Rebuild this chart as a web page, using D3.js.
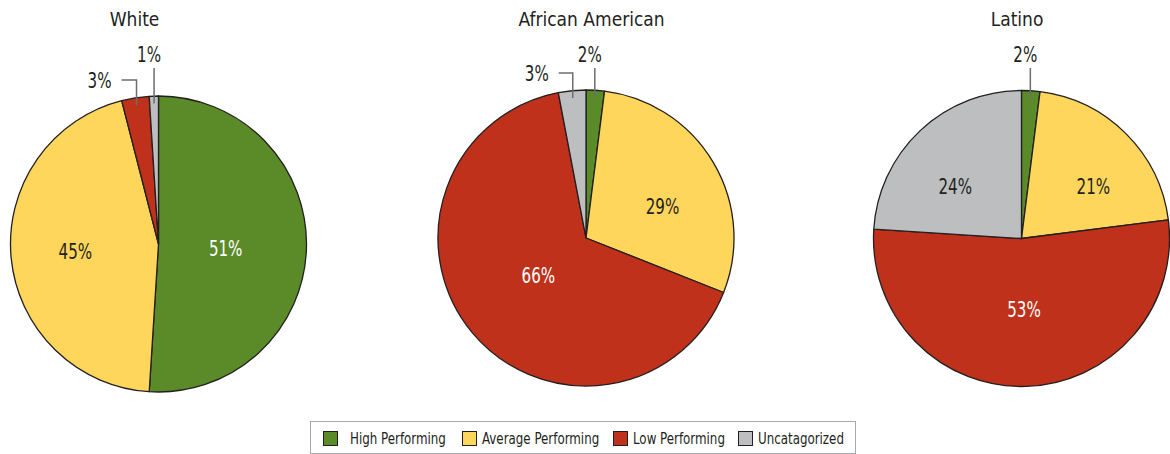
<!DOCTYPE html>
<html>
<head>
<meta charset="utf-8">
<script src="https://cdn.jsdelivr.net/npm/d3@7"></script>
<style>
  html, body { margin: 0; padding: 0; background: #fff; }
  svg { display: block; }
  text { font-family: "DejaVu Sans Condensed", "Liberation Sans Narrow", "Arial Narrow", sans-serif; font-stretch: condensed; }
</style>
</head>
<body>
<svg id="chart" width="1170" height="454"></svg>
<script>
// ---- data ----
const categories = ["High Performing", "Average Performing", "Low Performing", "Uncatagorized"];
const groups = ["White", "African American", "Latino"];
const whiteValues = [51, 45, 3, 1];
const africanAmericanValues = [2, 29, 66, 3];
const latinoValues = [2, 21, 53, 24];
const seriesValues = [whiteValues, africanAmericanValues, latinoValues];

// ---- styles / layout ----
const colors = ["#5b8a29", "#fed65b", "#bf311b", "#bdbec0"];
const labelColors = ["#ffffff", "#231f20", "#ffffff", "#231f20"];
const radius = 148;
const pieCenters = [[158.5, 244], [586, 238], [1021.5, 238.5]];
const titleX = [134.5, 591.5, 1017];
// inner label placement per slice: [radius fraction, angle offset in degrees] (null => outside label)
const innerLabelPlace = [
  [[0.455, 2], [0.564, 0.3], null, null],
  [null, [0.56, 8], [0.41, 1.3], null],
  [null, [0.6, 9], [0.48, -0.2], [0.57, -8.5]]
];
// outside labels: vertical leader top y, optional horizontal leg length
const outsideLabels = [
  { g: 0, s: 2, topY: 80, hLen: 15 },
  { g: 0, s: 3, topY: 68, hLen: 0 },
  { g: 1, s: 3, topY: 73, hLen: 14 },
  { g: 1, s: 0, topY: 68, hLen: 0 },
  { g: 2, s: 0, topY: 68, hLen: 0 }
];

const svg = d3.select("#chart");
const pie = d3.pie().sort(null).value(d => d);
const arc = d3.arc().innerRadius(0).outerRadius(radius);
const colorScale = d3.scaleOrdinal().domain(categories).range(colors);

// condensed text helper: anchor stays at (x, y)
function addText(parent, x, y, str, size, sx, anchor, fill) {
  const g = parent.append("g").attr("transform", `translate(${x},${y}) scale(${sx},1)`);
  g.append("text")
    .attr("x", 0).attr("y", 0)
    .attr("text-anchor", anchor)
    .attr("font-size", size)
    .attr("fill", fill)
    .text(str);
  return g;
}

groups.forEach((name, gi) => {
  const [cx, cy] = pieCenters[gi];
  const arcs = pie(seriesValues[gi]);
  const g = svg.append("g").attr("transform", `translate(${cx},${cy})`);

  g.selectAll("path.slice")
    .data(arcs)
    .join("path")
    .attr("class", "slice")
    .attr("d", arc)
    .attr("fill", (d, i) => colorScale(categories[i]))
    .attr("stroke", "#231f20")
    .attr("stroke-width", 1.3)
    .attr("stroke-linejoin", "round");

  // inner labels
  arcs.forEach((d, i) => {
    const p = innerLabelPlace[gi][i];
    if (p == null) return;
    const a = (d.startAngle + d.endAngle) / 2 + p[1] * Math.PI / 180;
    const lr = radius * p[0];
    const x = lr * Math.sin(a), y = -lr * Math.cos(a);
    addText(g, x, y + 7.5, d.data + "%", 21, 0.8, "middle", labelColors[i]);
  });

  // title
  addText(svg, titleX[gi], 26, name, 20, 0.95, "middle", "#231f20");
});

// outside labels with leader lines
outsideLabels.forEach(o => {
  const [cx, cy] = pieCenters[o.g];
  const d = pie(seriesValues[o.g])[o.s];
  const a = (d.startAngle + d.endAngle) / 2;
  const r0 = radius * 0.95;
  const x0 = cx + r0 * Math.sin(a);
  const y0 = cy - r0 * Math.cos(a);
  let pts = [[x0, y0], [x0, o.topY]];
  if (o.hLen) pts.push([x0 - o.hLen, o.topY]);
  svg.append("path")
    .attr("d", d3.line()(pts))
    .attr("fill", "none")
    .attr("stroke", "#6d6e71")
    .attr("stroke-width", 1.5);
  if (o.hLen) {
    addText(svg, x0 - o.hLen - 10, o.topY + 7.5, d.data + "%", 21, 0.8, "end", "#231f20");
  } else {
    addText(svg, x0 - 5, o.topY - 6, d.data + "%", 21, 0.8, "middle", "#231f20");
  }
});

// legend
const legend = svg.append("g");
legend.append("rect")
  .attr("x", 310.5).attr("y", 421.5).attr("width", 545).attr("height", 32)
  .attr("fill", "#fff").attr("stroke", "#a7a9ac").attr("stroke-width", 1);
const legendX = [323, 462, 613, 738];
categories.forEach((c, i) => {
  legend.append("rect")
    .attr("x", legendX[i] + 0.5).attr("y", 431.5).attr("width", 14).attr("height", 14)
    .attr("fill", colorScale(c)).attr("stroke", "#231f20").attr("stroke-width", 1);
  addText(legend, legendX[i] + (i === 0 ? 27 : 20), 444, c, 15, 0.88, "start", "#231f20");
});
</script>
</body>
</html>
